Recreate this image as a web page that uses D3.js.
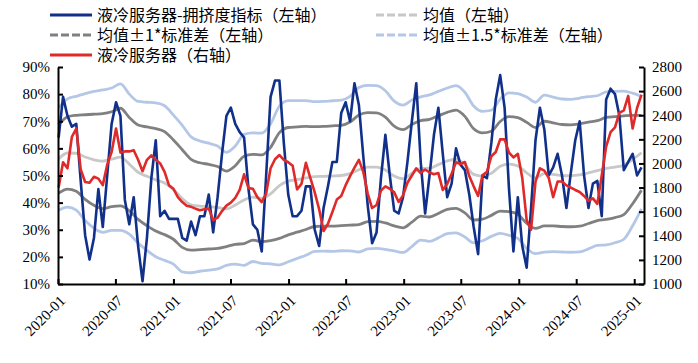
<!DOCTYPE html>
<html lang="zh">
<head>
<meta charset="UTF-8">
<title>液冷服务器拥挤度</title>
<script src="https://cdn.jsdelivr.net/npm/d3@7"></script>
<style>
  body { margin: 0; background: #fff; }
  svg { display: block; }
  .axis path, .axis line { stroke: #000; stroke-width: 2px; }
  .legend text { font-family: 'Noto Sans CJK SC', sans-serif; font-size: 16px; fill: #000; }
</style>
</head>
<body>
<svg id="chart" width="698" height="363"></svg>
<script>
// biweekly readings, first point 2020-01-03
var startDate = new Date(2020, 0, 3);

// 液冷服务器-拥挤度指标 (%)
var crowding = [64,79,72,68,69,48,28,19,27,45,31,50,69,77,72,41,32,42,24,11,
  27,49,63,35,37,34,34,34,27,26,33,28,35,35,43,29,42,58,72,75,
  69,66,64,45,32,30,22,50,79,85,85,62,43,35,35,37,46,46,30,24,
  38,46,55,55,73,77,70,84,76,57,39,25,29,49,65,50,37,36,42,55,
  70,84,55,36,50,65,75,58,42,47,60,54,52,43,31,21,50,49,62,78,
  87,75,45,22,42,24,16,38,63,75,67,50,53,58,50,38,51,63,70,50,
  38,47,48,35,78,82,80,72,52,55,58,50,53];

// 液冷服务器 index (right axis)
var price = [1800,2010,1960,2220,2290,1950,1846,1840,1890,1874,1820,1990,2095,2290,2090,2100,2100,2110,2030,1935,
  2030,2067,2030,2000,1930,1818,1790,1720,1680,1650,1640,1625,1612,1620,1625,1530,1550,1605,1650,1675,
  1715,1780,1910,1795,1790,1720,1680,1750,1960,2035,2070,2030,2010,1980,1785,1830,2005,1880,1760,1620,
  1440,1500,1597,1700,1730,1820,1895,1965,2030,1930,1750,1630,1655,1775,1810,1790,1760,1680,1735,1840,
  1900,1960,1920,1950,1925,1910,1920,1780,1830,1915,2010,1995,2012,1895,1810,1730,1902,1930,2060,2095,
  2200,2200,2090,2050,2080,1880,1530,1450,1850,1960,1940,1880,1720,1850,1850,1818,1800,1780,1763,1730,
  1690,1710,1665,1900,2140,2260,2300,2420,2440,2560,2290,2460,2570];

// rolling mean and standard deviation, every 4 weeks
var meanVals = [56.1,58.3,58.2,56.8,55.8,55.3,56.0,56.8,54.2,51.2,49.7,48.4,47.2,44.8,41.5,39.2,38.7,38.5,38.2,37.7,
  39.1,41.0,42.0,41.6,43.2,46.3,47.9,48.5,49.1,49.6,49.7,49.8,50.0,50.7,52.1,53.1,53.1,52.0,49.8,48.8,
  50.8,52.6,52.7,54.0,55.4,56.0,54.0,50.4,49.8,50.8,53.4,54.2,53.5,51.0,49.1,50.7,50.4,50.0,49.9,50.2,
  51.0,51.8,52.6,53.1,53.8,55.9,58.4];
var sdVals = [12.6,13.3,14.0,15.6,16.8,17.5,17.5,18.0,17.2,17.4,18.2,18.9,19.0,18.3,18.0,16.7,16.0,15.6,15.1,13.9,
  14.5,16.1,15.8,16.0,17.2,19.5,19.8,19.4,19.0,18.4,18.4,18.5,18.5,19.0,20.2,20.1,20.0,19.5,18.4,18.1,
  18.0,17.6,18.0,18.0,17.9,18.1,17.8,16.8,15.9,15.5,16.5,17.5,17.8,18.6,18.6,19.3,19.0,18.8,18.8,18.9,
  18.7,18.4,18.8,18.6,18.2,16.3,13.8];

var leftTicks = [10,20,30,40,50,60,70,80,90];
var rightTicks = [1000,1200,1400,1600,1800,2000,2200,2400,2600,2800];
var xTicks = ['2020-01','2020-07','2021-01','2021-07','2022-01','2022-07','2023-01','2023-07','2024-01','2024-07','2025-01'];

var svg = d3.select('#chart');
var plotL = 58, plotR = 644, plotT = 67, plotB = 284;
var serif = "'Liberation Serif', 'Times New Roman', Times, serif";

var x = d3.scaleTime()
  .domain([new Date(2020, 0, 1), new Date(2025, 1, 1)])
  .range([plotL, plotR]);
var yL = d3.scaleLinear().domain([10, 90]).range([plotB, plotT]);
var yR = d3.scaleLinear().domain([1000, 2800]).range([plotB, plotT]);

var weekDates = crowding.map(function(d, i) { return d3.timeDay.offset(startDate, 14 * i); });
var bandDates = meanVals.map(function(d, i) { return d3.timeDay.offset(startDate, 28 * i); });

var bandLine = function(k) {
  return d3.line()
    .curve(d3.curveMonotoneX)
    .x(function(d, i) { return x(bandDates[i]); })
    .y(function(d, i) { return yL(meanVals[i] + k * sdVals[i]); });
};

var colors = {
  blue: '#10308a',
  red: '#e02a2a',
  dark: '#808080',
  light: '#c8c8c8',
  lblue: '#b4c7e7'
};

var g = svg.append('g');

// bands
[[1.5, colors.lblue], [-1.5, colors.lblue], [1, colors.dark], [-1, colors.dark], [0, colors.light]].forEach(function(b) {
  g.append('path')
    .datum(meanVals)
    .attr('fill', 'none')
    .attr('stroke', b[1])
    .attr('stroke-width', 2.8)
    .attr('d', bandLine(b[0]));
});

g.append('path')
  .datum(crowding)
  .attr('fill', 'none')
  .attr('stroke', colors.blue)
  .attr('stroke-width', 2.6)
  .attr('stroke-linejoin', 'round')
  .attr('d', d3.line()
    .x(function(d, i) { return x(weekDates[i]); })
    .y(function(d) { return yL(d); }));

g.append('path')
  .datum(price)
  .attr('fill', 'none')
  .attr('stroke', colors.red)
  .attr('stroke-width', 2.6)
  .attr('stroke-linejoin', 'round')
  .attr('d', d3.line()
    .x(function(d, i) { return x(weekDates[i]); })
    .y(function(d) { return yR(d); }));

// axes
svg.append('g')
  .attr('class', 'axis')
  .attr('transform', 'translate(' + plotL + ',0)')
  .call(d3.axisLeft(yL).tickValues(leftTicks).tickSize(-5).tickSizeOuter(0).tickPadding(8)
    .tickFormat(function(d) { return d + '%'; }));

svg.append('g')
  .attr('class', 'axis')
  .attr('transform', 'translate(' + plotR + ',0)')
  .call(d3.axisRight(yR).tickValues(rightTicks).tickSize(-5).tickSizeOuter(0).tickPadding(8)
    .tickFormat(d3.format('d')));

var xAxis = svg.append('g')
  .attr('class', 'axis')
  .attr('transform', 'translate(0,' + plotB + ')')
  .call(d3.axisBottom(x)
    .tickValues(xTicks.map(function(s) { return d3.timeParse('%Y-%m')(s); }))
    .tickSize(-5).tickSizeOuter(0)
    .tickFormat(d3.timeFormat('%Y-%m')));

xAxis.selectAll('.tick text')
  .attr('text-anchor', 'end')
  .attr('dy', '0.35em')
  .attr('y', 0)
  .attr('transform', 'translate(4,14) rotate(-45)');

svg.selectAll('.axis').attr('font-family', null).attr('font-size', null);
svg.selectAll('.axis text')
  .style('font-family', serif)
  .style('font-size', '15px')
  .style('fill', '#000');

// legend
var legendItems = [
  { label: '液冷服务器-拥挤度指标（左轴）', color: colors.blue, dash: null, x: 50, y: 15 },
  { label: '均值（左轴）', color: colors.light, dash: '8,3', x: 376, y: 15 },
  { label: '均值±1*标准差（左轴）', color: colors.dark, dash: '8,3', x: 50, y: 35 },
  { label: '均值±1.5*标准差（左轴）', color: colors.lblue, dash: '8,3', x: 376, y: 35 },
  { label: '液冷服务器（右轴）', color: colors.red, dash: null, x: 50, y: 55 }
];

var legend = svg.append('g').attr('class', 'legend');
legendItems.forEach(function(it) {
  legend.append('line')
    .attr('x1', it.x).attr('x2', it.x + 42)
    .attr('y1', it.y).attr('y2', it.y)
    .attr('stroke', it.color)
    .attr('stroke-width', 3)
    .attr('stroke-dasharray', it.dash);
  legend.append('text')
    .attr('x', it.x + 47)
    .attr('y', it.y)
    .attr('dy', '0.35em')
    .text(it.label);
});
</script>
</body>
</html>
